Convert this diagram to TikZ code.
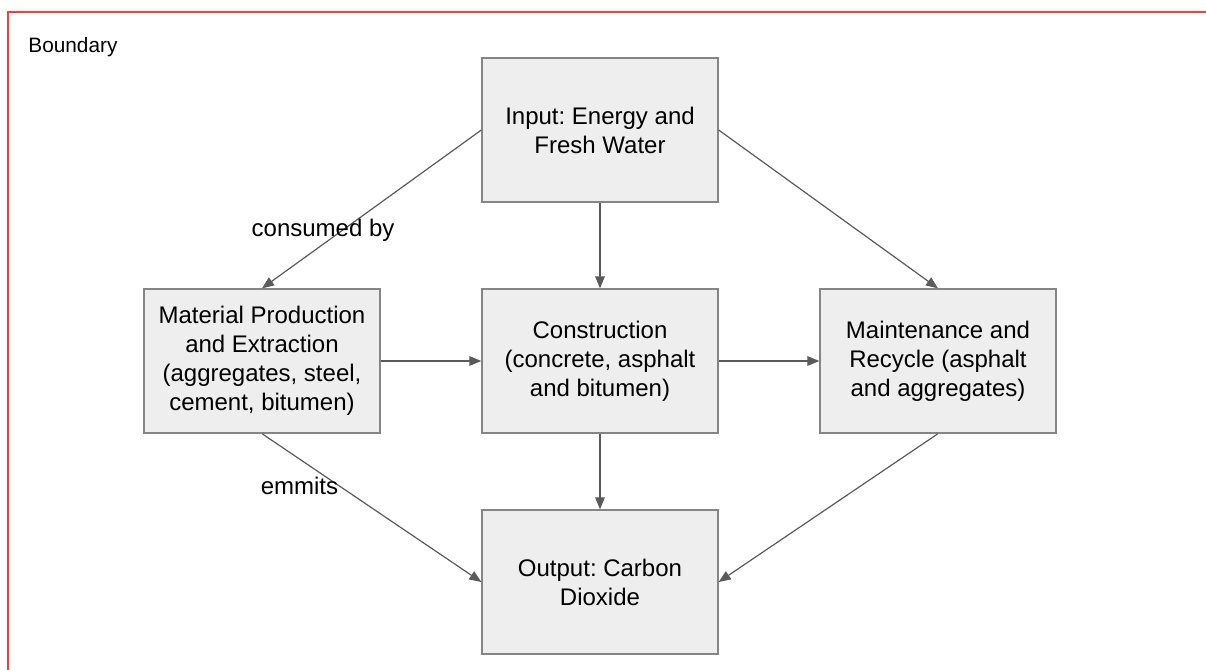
\documentclass[tikz,border=0pt]{standalone}
\usepackage{fontspec}
\setmainfont{Liberation Sans}
\usepackage{xcolor}
\usepackage{tikz}
\usetikzlibrary{arrows.meta}
\definecolor{boxfill}{HTML}{EEEEEE}
\definecolor{boxline}{HTML}{858585}
\definecolor{arrowgray}{HTML}{5A5A5A}
\definecolor{boundaryred}{HTML}{FF3B3B}
\frenchspacing
\tikzstyle{stage} = [rectangle, draw=boxline, fill=boxfill, line width=0.65pt, align=center, minimum width=118pt, minimum height=72pt, inner sep=0pt, font=\fontsize{12pt}{14.5pt}\selectfont]
\tikzstyle{arrow} = [draw=arrowgray, line width=0.6pt, -{Triangle[length=6pt,width=4.8pt]}]
\tikzstyle{edgelabel} = [font=\fontsize{12pt}{14.5pt}\selectfont, inner sep=0pt]

\begin{document}
\begin{tikzpicture}[x=0.5pt, y=-0.5pt]
\useasboundingbox (0,0) rectangle (1206,670);
% boundary frame
\draw [boundaryred, line width=1pt] (8,12) rectangle (1240,700);
\node [anchor=base west, inner sep=0pt, font=\fontsize{10.4pt}{12pt}\selectfont] (boundary) at (28,52) {Boundary};
% stages
\node [stage] (input) at (600,130) {Input: Energy and\\Fresh Water};
\node [stage] (material) at (262,361) {Material Production\\and Extraction\\(aggregates, steel,\\cement, bitumen)};
\node [stage] (construction) at (600,361) {Construction\\(concrete, asphalt\\and bitumen)};
\node [stage] (maintenance) at (938,361) {Maintenance and\\Recycle (asphalt\\and aggregates)};
\node [stage] (output) at (600,582) {Output: Carbon\\Dioxide};
% connectors
\draw [arrow] (input.west) -- node[edgelabel, pos=0.635, xshift=-9.5pt] {consumed by} (material.north);
\draw [arrow] (input.south) -- (construction.north);
\draw [arrow] (input.east) -- (maintenance.north);
\draw [arrow] (material.east) -- (construction.west);
\draw [arrow] (construction.east) -- (maintenance.west);
\draw [arrow] (material.south) -- node[edgelabel, pos=0.35, anchor=east] {emmits} (output.west);
\draw [arrow] (construction.south) -- (output.north);
\draw [arrow] (maintenance.south) -- (output.east);
\end{tikzpicture}
\end{document}
